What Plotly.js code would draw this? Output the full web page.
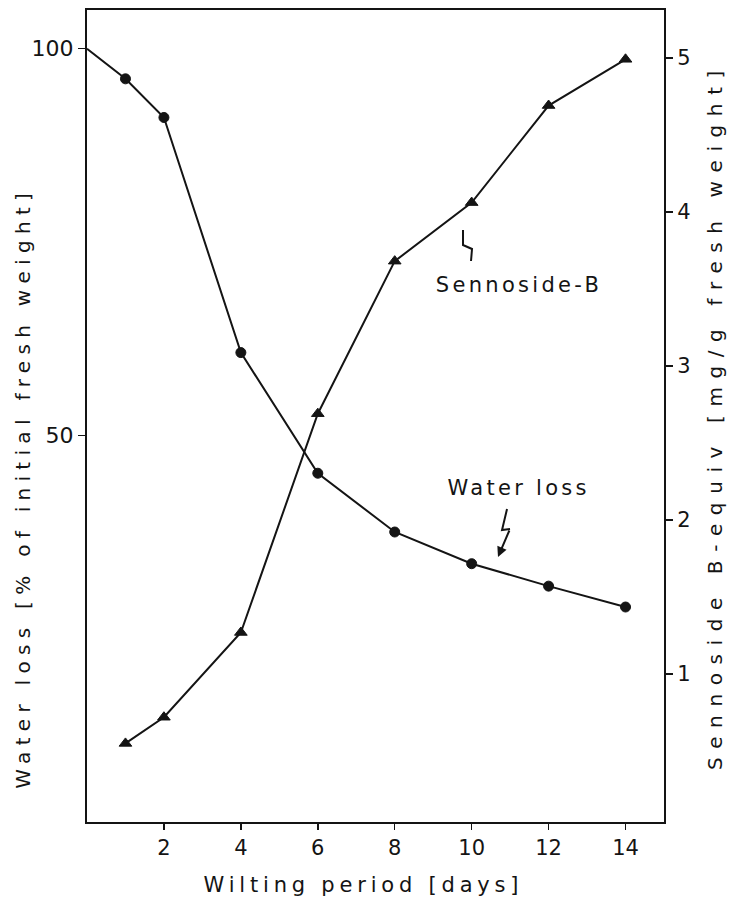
<!DOCTYPE html>
<html>
<head>
<meta charset="utf-8">
<script src="https://cdn.plot.ly/plotly-3.0.1.min.js"></script>
<style>
  html, body { margin: 0; padding: 0; background: #ffffff; }
  #chart { width: 738px; height: 910px; }
  .annotation[data-index="0"] text { letter-spacing: 6.3px; }
  .annotation[data-index="1"] text { letter-spacing: 8.6px; }
  .annotation[data-index="2"] text { letter-spacing: 4.8px; }
  .annotation[data-index="3"] text { letter-spacing: 3.3px; }
  .annotation[data-index="4"] text { letter-spacing: 3.3px; }
</style>
</head>
<body>
<div id="chart"></div>
<script>
// ---- data ----
const waterDays = [0, 1, 2, 4, 6, 8, 10, 12, 14];
const waterLoss = [100, 96.1, 91.1, 60.7, 45.1, 37.5, 33.4, 30.5, 27.8];

const sennaDays = [1, 2, 4, 6, 8, 10, 12, 14];
const sennoside = [0.55, 0.72, 1.27, 2.69, 3.68, 4.06, 4.69, 4.99];

const xTicks = [2, 4, 6, 8, 10, 12, 14];
const leftTicks = [50, 100];
const rightTicks = [1, 2, 3, 4, 5];

const ink = '#141414';
const font = 'DejaVu Sans, Verdana, sans-serif';

// helpers for the little hand-drawn pointer strokes (pixel -> data on x / left y)
const L = 87, T = 10, W = 577, H = 812;
const xr = [0, 15], yr = [0, 105];
const px2x = p => xr[0] + (p - L) / W * (xr[1] - xr[0]);
const py2y = p => yr[0] + (T + H - p) / H * (yr[1] - yr[0]);
function pathFrom(pts) {
  return pts.map((p, i) => (i ? 'L' : 'M') + px2x(p[0]).toFixed(3) + ',' + py2y(p[1]).toFixed(3)).join(' ');
}

const traces = [
  {
    x: waterDays, y: waterLoss, type: 'scatter', mode: 'lines+markers',
    name: 'Water loss', yaxis: 'y',
    line: { color: ink, width: 2 },
    marker: { symbol: 'circle', size: waterDays.map(d => d === 0 ? 0 : 10), opacity: 1,
              color: ink, line: { color: ink, width: 1 } },
    hoverinfo: 'x+y'
  },
  {
    x: sennaDays, y: sennoside, type: 'scatter', mode: 'lines+markers',
    name: 'Sennoside-B', yaxis: 'y2',
    line: { color: ink, width: 2 },
    marker: { symbol: 'triangle-up', size: 11, opacity: 1, color: ink, line: { color: ink, width: 1 } },
    hoverinfo: 'x+y'
  }
];

const layout = {
  width: 738, height: 910,
  margin: { l: L, r: 738 - L - W, t: T, b: 910 - T - H, pad: 0 },
  paper_bgcolor: '#ffffff', plot_bgcolor: '#ffffff',
  showlegend: false,
  font: { family: font, color: ink, size: 21 },
  xaxis: {
    range: xr, tickvals: xTicks, ticktext: xTicks.map(String),
    ticks: 'outside', ticklen: 6, tickwidth: 1.5, tickcolor: ink,
    showline: true, linecolor: ink, linewidth: 2, mirror: true,
    showgrid: false, zeroline: false,
    tickfont: { family: font, size: 21, color: ink }
  },
  yaxis: {
    range: yr, tickvals: leftTicks, ticktext: leftTicks.map(String),
    ticks: 'outside', ticklen: 7, tickwidth: 1.5, tickcolor: ink,
    showline: true, linecolor: ink, linewidth: 2,
    showgrid: false, zeroline: false,
    tickfont: { family: font, size: 22, color: ink }
  },
  yaxis2: {
    overlaying: 'y', side: 'right',
    range: [0.04, 5.31], tickvals: rightTicks, ticktext: rightTicks.map(String),
    ticks: 'outside', ticklen: 7, tickwidth: 1.5, tickcolor: ink,
    showline: true, linecolor: ink, linewidth: 2,
    showgrid: false, zeroline: false,
    tickfont: { family: font, size: 21, color: ink }
  },
  annotations: [
    { text: 'Water loss [% of initial fresh weight]', xref: 'paper', yref: 'paper',
      x: (23 - L) / W, y: (T + H - 488) / H, textangle: -90, showarrow: false,
      font: { family: font, size: 20, color: ink }, xanchor: 'center', yanchor: 'middle' },
    { text: 'Sennoside B-equiv [mg/g fresh weight]', xref: 'paper', yref: 'paper',
      x: (715 - L) / W, y: (T + H - 416) / H, textangle: -90, showarrow: false,
      font: { family: font, size: 20, color: ink }, xanchor: 'center', yanchor: 'middle' },
    { text: 'Wilting period [days]', xref: 'paper', yref: 'paper',
      x: (363 - L) / W, y: (T + H - 885) / H, showarrow: false,
      font: { family: font, size: 21, color: ink }, xanchor: 'center', yanchor: 'middle' },
    { text: 'Sennoside-B', xref: 'x', yref: 'y',
      x: px2x(519), y: py2y(285), showarrow: false,
      font: { family: font, size: 21, color: ink }, xanchor: 'center', yanchor: 'middle' },
    { text: 'Water loss', xref: 'x', yref: 'y',
      x: px2x(518), y: py2y(488), showarrow: false,
      font: { family: font, size: 21, color: ink }, xanchor: 'center', yanchor: 'middle' },
    { text: '', xref: 'x', yref: 'y', x: px2x(498), y: py2y(557),
      showarrow: true, ax: 12, ay: -28, arrowhead: 2, arrowsize: 1, arrowwidth: 2, arrowcolor: ink, standoff: 0 }
  ],
  shapes: [
    { type: 'path', xref: 'x', yref: 'y', path: pathFrom([[463, 230], [463, 245], [472, 249], [471, 261]]),
      line: { color: ink, width: 2 } },
    { type: 'path', xref: 'x', yref: 'y', path: pathFrom([[507, 509], [502, 530], [510, 529]]),
      line: { color: ink, width: 2 } }
  ]
};

Plotly.newPlot('chart', traces, layout, { staticPlot: true, displayModeBar: false });
</script>
</body>
</html>
